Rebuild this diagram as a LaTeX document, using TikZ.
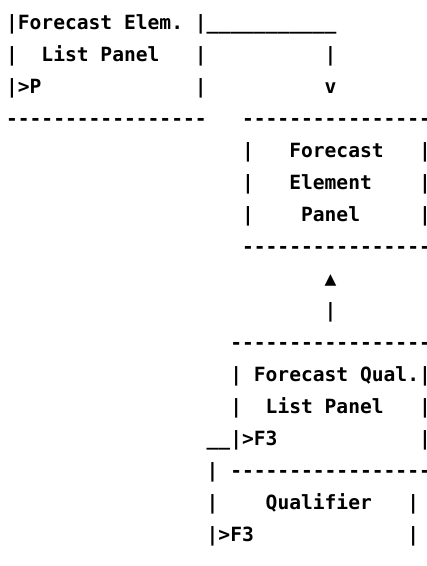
\documentclass[tikz,border=0pt]{standalone}
\usepackage{fontspec}
\setmonofont{DejaVu Sans Mono}
\begin{document}
\begin{tikzpicture}[x=11.8pt,y=-32pt,
  txt/.style={anchor=base west,inner sep=0pt,outer sep=0pt,
    font=\ttfamily\bfseries\fontsize{19.6pt}{32pt}\selectfont}]
\fill[white] (0pt,0pt) rectangle (427pt,-566pt);
\useasboundingbox (0pt,0pt) rectangle (427pt,-566pt);
\begin{scope}[shift={(6.1pt,-29.5pt)}]
% Forecast Element List Panel
\node[txt] (a0) at (0,0) {|Forecast Elem.};
\node[txt] (a1) at (16,0) {|\_\_\_\_\_\_\_\_\_\_\_};
\node[txt] (b0) at (0,1) {|};
\node[txt] (b1) at (3,1) {List Panel};
\node[txt] (b2) at (16,1) {|};
\node[txt] (b3) at (27,1) {|};
\node[txt] (c0) at (0,2) {|>P};
\node[txt] (c1) at (16,2) {|};
\node[txt] (c2) at (27,2) {v};
\node[txt] (d0) at (0,3) {-----------------};
\node[txt] (d1) at (20,3) {----------------};
% Forecast Element Panel
\node[txt] (e0) at (20,4) {|};
\node[txt] (e1) at (24,4) {Forecast};
\node[txt] (e2) at (35,4) {|};
\node[txt] (f0) at (20,5) {|};
\node[txt] (f1) at (24,5) {Element};
\node[txt] (f2) at (35,5) {|};
\node[txt] (g0) at (20,6) {|};
\node[txt] (g1) at (25,6) {Panel};
\node[txt] (g2) at (35,6) {|};
\node[txt] (h0) at (20,7) {----------------};
% arrow up
\node[txt] (i0) at (27,8) {▲};
\node[txt] (j0) at (27,9) {|};
% Forecast Qual. List Panel
\node[txt] (k0) at (19,10) {-----------------};
\node[txt] (l0) at (19,11) {|};
\node[txt] (l1) at (21,11) {Forecast Qual.|};
\node[txt] (m0) at (19,12) {|};
\node[txt] (m1) at (22,12) {List Panel};
\node[txt] (m2) at (35,12) {|};
\node[txt] (n0) at (17,13) {\_\_|>F3};
\node[txt] (n1) at (35,13) {|};
% Qualifier
\node[txt] (o0) at (17,14) {|};
\node[txt] (o1) at (19,14) {-----------------};
\node[txt] (p0) at (17,15) {|};
\node[txt] (p1) at (22,15) {Qualifier};
\node[txt] (p2) at (34,15) {|};
\node[txt] (q0) at (17,16) {|>F3};
\node[txt] (q1) at (34,16) {|};
\end{scope}
\end{tikzpicture}
\end{document}
